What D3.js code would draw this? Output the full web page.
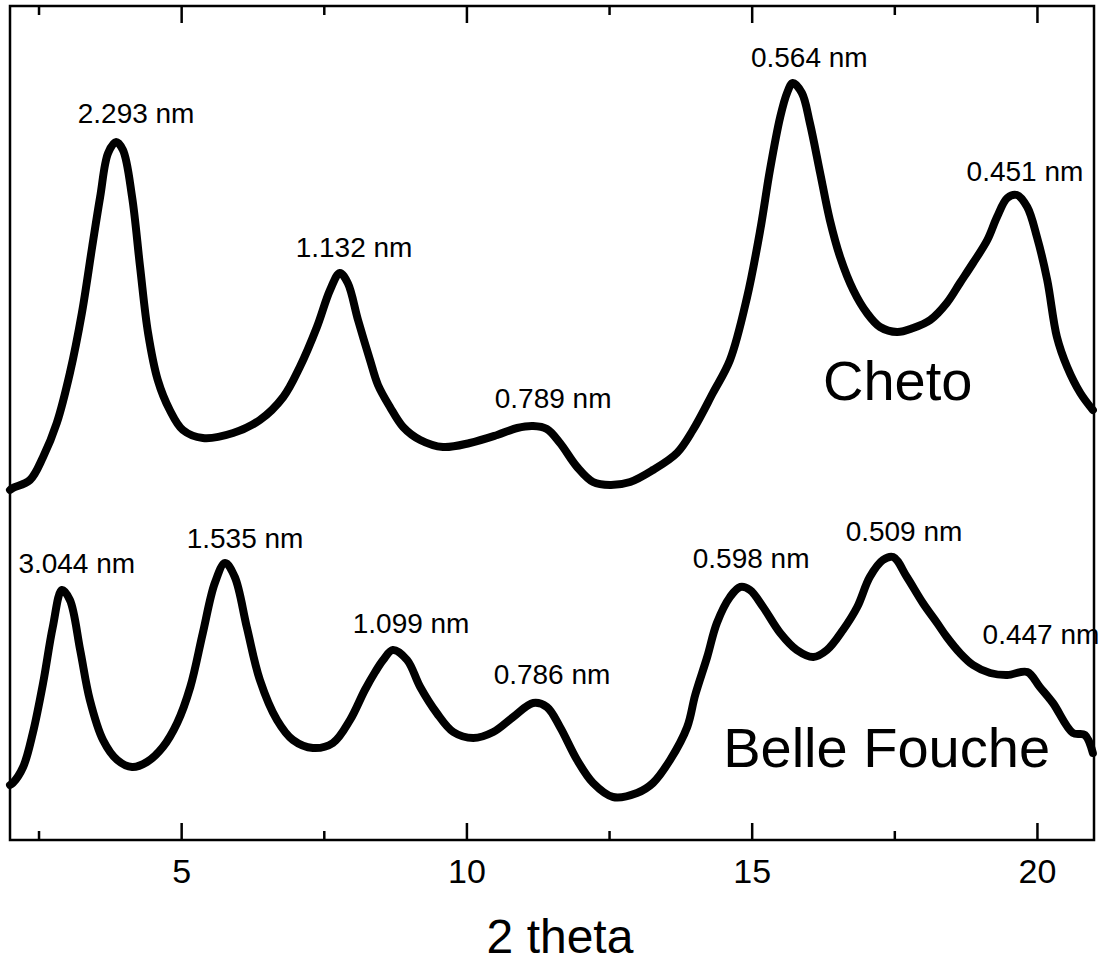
<!DOCTYPE html>
<html>
<head>
<meta charset="utf-8">
<script src="https://cdn.jsdelivr.net/npm/d3@7"></script>
<style>
  html, body { margin: 0; padding: 0; background: #fff; }
  svg { display: block; font-family: "Liberation Sans", Arial, Helvetica, sans-serif; }
</style>
</head>
<body>
<svg id="chart" width="1105" height="962"></svg>
<script>
// ---- Data (2 theta in degrees, intensity in arbitrary units) ----
const chetoTheta = [2.00, 2.05, 2.35, 2.58, 2.82, 3.05, 3.26, 3.44, 3.58, 3.72, 3.86, 3.98, 4.14, 4.28, 4.42, 4.59, 4.80, 5.03, 5.38, 5.91, 6.38, 6.79, 7.08, 7.38, 7.61, 7.78, 7.92, 8.10, 8.31, 8.45, 8.66, 8.89, 9.19, 9.59, 10.06, 10.54, 10.89, 11.17, 11.41, 11.64, 11.94, 12.22, 12.52, 12.87, 13.27, 13.69, 13.97, 14.32, 14.62, 14.92, 15.15, 15.32, 15.50, 15.62, 15.72, 15.88, 16.02, 16.20, 16.37, 16.55, 16.78, 17.02, 17.25, 17.55, 17.83, 18.13, 18.42, 18.65, 18.88, 19.13, 19.30, 19.48, 19.65, 19.83, 20.00, 20.18, 20.35, 20.53, 20.76, 20.98];
const chetoIntensity = [350, 352, 360, 383, 417, 467, 527, 593, 643, 687, 698, 690, 643, 573, 507, 460, 430, 410, 402, 407, 420, 443, 473, 513, 550, 567, 557, 520, 480, 455, 433, 413, 400, 393, 397, 405, 412, 414, 411, 397, 373, 358, 355, 358, 370, 387, 410, 447, 480, 543, 610, 670, 723, 747, 757, 747, 717, 667, 620, 583, 550, 527, 513, 508, 512, 520, 537, 557, 577, 600, 623, 642, 645, 633, 603, 560, 503, 473, 447, 430];

const belleTheta = [2.00, 2.05, 2.23, 2.40, 2.58, 2.75, 2.91, 3.05, 3.23, 3.40, 3.63, 3.88, 4.14, 4.40, 4.68, 4.93, 5.16, 5.38, 5.59, 5.77, 5.94, 6.15, 6.38, 6.68, 6.96, 7.31, 7.66, 7.96, 8.22, 8.40, 8.54, 8.71, 8.96, 9.19, 9.48, 9.77, 10.12, 10.47, 10.82, 11.17, 11.41, 11.64, 11.94, 12.22, 12.57, 12.99, 13.27, 13.57, 13.87, 14.01, 14.22, 14.39, 14.62, 14.80, 14.97, 15.20, 15.50, 15.79, 16.08, 16.32, 16.60, 16.85, 17.07, 17.30, 17.48, 17.72, 18.00, 18.25, 18.42, 18.65, 18.88, 19.18, 19.48, 19.83, 20.05, 20.28, 20.63, 20.84, 20.98];
const belleIntensity = [55, 57, 73, 107, 157, 213, 250, 240, 190, 140, 100, 80, 73, 78, 93, 117, 153, 207, 257, 277, 263, 213, 160, 120, 100, 92, 97, 120, 150, 168, 180, 190, 180, 153, 127, 108, 102, 108, 123, 137, 133, 113, 80, 57, 43, 47, 57, 80, 113, 145, 183, 217, 243, 253, 250, 233, 207, 190, 183, 190, 210, 233, 263, 280, 283, 263, 237, 217, 203, 187, 175, 167, 165, 168, 153, 137, 107, 105, 87];

// d-spacing annotations: text and anchor (2 theta, intensity)
const peakLabels = ["2.293 nm", "1.132 nm", "0.789 nm", "0.564 nm", "0.451 nm",
                    "3.044 nm", "1.535 nm", "1.099 nm", "0.786 nm", "0.598 nm", "0.509 nm", "0.447 nm"];
const peakLabelTheta = [4.21, 8.03, 11.52, 16.01, 19.79, 3.17, 6.12, 9.03, 11.50, 14.99, 17.67, 20.07];
const peakLabelIntensity = [717, 583, 432, 773, 659, 267, 292, 207, 156, 272, 299, 196];

const sampleNames = ["Cheto", "Belle Fouche"];
const sampleNameTheta = [16.25, 14.50];
const sampleNameIntensity = [440, 73];

const majorTicks = [5, 10, 15, 20];
const minorTicks = [2.5, 7.5, 12.5, 17.5];
const xDomain = [2, 21];
const yDomain = [0, 834];
const xTitle = "2 theta";

// ---- Layout ----
const mLeft = 10, mRight = 1094, mTop = 6, mBottom = 840;
const svg = d3.select("#chart");

const x = d3.scaleLinear().domain(xDomain).range([mLeft, mRight]);
const y = d3.scaleLinear().domain(yDomain).range([mBottom, mTop]);

const line = d3.line()
  .x(d => x(d[0]))
  .y(d => y(d[1]))
  .curve(d3.curveCatmullRom.alpha(0.5));

const series = [
  d3.zip(chetoTheta, chetoIntensity),
  d3.zip(belleTheta, belleIntensity)
];

svg.append("g")
  .selectAll("path")
  .data(series)
  .join("path")
  .attr("d", line)
  .attr("fill", "none")
  .attr("stroke", "#000")
  .attr("stroke-width", 8)
  .attr("stroke-linejoin", "round")
  .attr("stroke-linecap", "round");

// peak labels
svg.append("g")
  .selectAll("text")
  .data(peakLabels)
  .join("text")
  .attr("x", (d, i) => x(peakLabelTheta[i]))
  .attr("y", (d, i) => y(peakLabelIntensity[i]))
  .attr("text-anchor", "middle")
  .attr("font-size", 28)
  .attr("fill", "#000")
  .text(d => d);

// sample names
svg.append("g")
  .selectAll("text")
  .data(sampleNames)
  .join("text")
  .attr("x", (d, i) => x(sampleNameTheta[i]))
  .attr("y", (d, i) => y(sampleNameIntensity[i]))
  .attr("text-anchor", "start")
  .attr("font-size", 56)
  .attr("fill", "#000")
  .text(d => d);

// axes: bottom with labels, top mirrored, inward ticks
const gBottom = svg.append("g").attr("transform", `translate(0,${mBottom})`)
  .call(d3.axisBottom(x).tickValues(majorTicks).tickFormat(d3.format("d"))
        .tickSizeInner(-17).tickSizeOuter(0).tickPadding(19));
const gBottomMinor = svg.append("g").attr("transform", `translate(0,${mBottom})`)
  .call(d3.axisBottom(x).tickValues(minorTicks).tickFormat("")
        .tickSizeInner(-9).tickSizeOuter(0));
const gTop = svg.append("g").attr("transform", `translate(0,${mTop})`)
  .call(d3.axisTop(x).tickValues(majorTicks).tickFormat("")
        .tickSizeInner(-17).tickSizeOuter(0));
const gTopMinor = svg.append("g").attr("transform", `translate(0,${mTop})`)
  .call(d3.axisTop(x).tickValues(minorTicks).tickFormat("")
        .tickSizeInner(-9).tickSizeOuter(0));

[gBottom, gBottomMinor, gTop, gTopMinor].forEach(g => {
  g.select(".domain").remove();
  g.selectAll(".tick line").attr("stroke", "#000").attr("stroke-width", 2.5);
});
gBottom.selectAll(".tick text")
  .attr("font-size", 34)
  .attr("font-family", "'Liberation Sans', Arial, sans-serif")
  .attr("fill", "#000");

// frame
svg.append("rect")
  .attr("x", mLeft).attr("y", mTop)
  .attr("width", mRight - mLeft).attr("height", mBottom - mTop)
  .attr("fill", "none")
  .attr("stroke", "#000")
  .attr("stroke-width", 2.5);

// axis title
svg.append("text")
  .attr("x", (mLeft + mRight) / 2 + 8)
  .attr("y", 953)
  .attr("text-anchor", "middle")
  .attr("font-size", 48)
  .attr("fill", "#000")
  .text(xTitle);
</script>
</body>
</html>
